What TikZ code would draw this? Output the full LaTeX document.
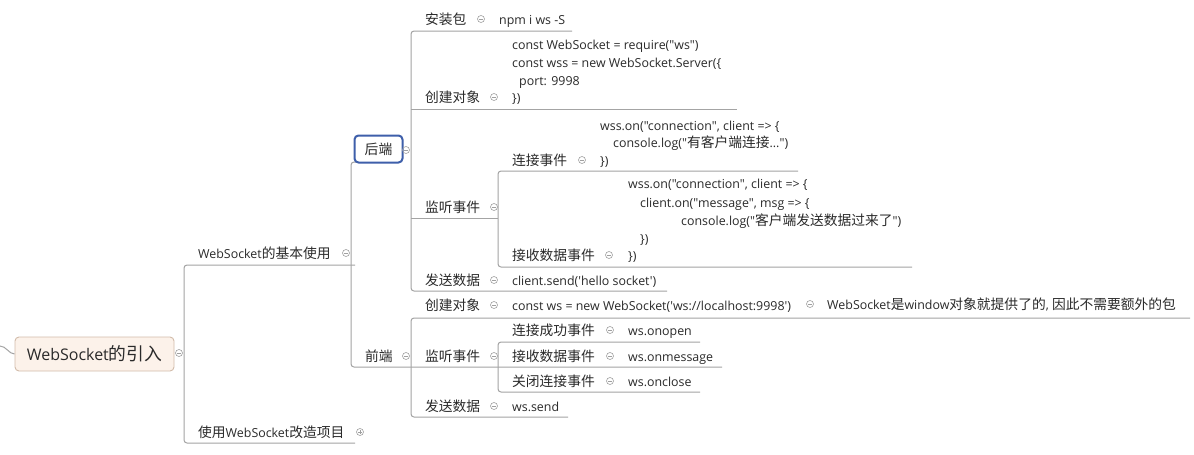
\documentclass[tikz,border=0pt]{standalone}
\usepackage{fontspec}
\newfontfamily\lat{Open Sans}
\newfontfamily\cjk{Noto Sans CJK SC}[Scale=1.11]
\newcommand\zh[1]{{\cjk #1}}
\definecolor{ln}{HTML}{A4A4A4}
\definecolor{tx}{HTML}{2A2A2A}
\definecolor{cc}{HTML}{A0A0A0}
\definecolor{hbblue}{HTML}{3E5FAA}
\definecolor{rootfill}{HTML}{FCF2EA}
\definecolor{rootdraw}{HTML}{D2BCAA}
\begin{document}
\begin{tikzpicture}[x=1pt,y=-1pt,
  txt/.style={anchor=base west, inner sep=0pt, text=tx, font=\fontsize{12.4}{17.5}\selectfont\lat},
  coll/.style={circle, draw=cc, line width=0.6pt, minimum size=7pt, inner sep=0pt,
    path picture={\draw[cc,line width=0.6pt] ([xshift=-1.8pt]path picture bounding box.center) -- ([xshift=1.8pt]path picture bounding box.center);}},
  expd/.style={coll, path picture={\draw[cc,line width=0.6pt] ([xshift=-1.8pt]path picture bounding box.center) -- ([xshift=1.8pt]path picture bounding box.center) ([yshift=-1.8pt]path picture bounding box.center) -- ([yshift=1.8pt]path picture bounding box.center);}},
  tree/.style={draw=ln, line width=1pt, rounded corners=3pt}]
\useasboundingbox[fill=white] (0,0) rectangle (1194,455);

% ---------- tree lines ----------
% root spine
\coordinate (r-top) at (184,265); \coordinate (r-bot) at (184,443);
\coordinate (jb-end) at (355,265); \coordinate (gz-end) at (355,443);
\draw[tree] (jb-end) -- (r-top) -- (r-bot) -- (gz-end);
% basic-use spine
\coordinate (bu-top) at (351,162); \coordinate (bu-bot) at (351,367);
\coordinate (hd-foot) at (358,162); \coordinate (fe-end) at (722,367);
\draw[tree] (hd-foot) -- (bu-top) -- (bu-bot) -- (fe-end);
% backend spine
\coordinate (hb-top) at (411,31); \coordinate (hb-bot) at (411,291);
\coordinate (az-end) at (572,31); \coordinate (fs-end) at (667,291);
\draw[tree] (az-end) -- (hb-top) -- (hb-bot) -- (fs-end);
\coordinate (cj-start) at (411,109); \coordinate (cj-end) at (737,109);
\draw[tree] (cj-start) -- (cj-end);
\coordinate (jt-start) at (411,218); \coordinate (jt-end) at (498,218);
\draw[tree] (jt-start) -- (jt-end);
% backend listen spine
\coordinate (bl-top) at (498,171); \coordinate (bl-bot) at (498,267);
\coordinate (lj-end) at (798,171); \coordinate (js-end) at (912,267);
\draw[tree] (lj-end) -- (bl-top) -- (bl-bot) -- (js-end);
% frontend spine
\coordinate (fe-top) at (411,318); \coordinate (fe-bot) at (411,417);
\coordinate (fc-end) at (1190,318); \coordinate (ff-end) at (568,417);
\draw[tree] (fc-end) -- (fe-top) -- (fe-bot) -- (ff-end);
% frontend listen spine
\coordinate (fl-top) at (498,342); \coordinate (fl-bot) at (498,392);
\coordinate (fo-end) at (700,342); \coordinate (fx-end) at (700,392);
\draw[tree] (fo-end) -- (fl-top) -- (fl-bot) -- (fx-end);

% ---------- root ----------
\node[draw=rootdraw, fill=rootfill, line width=0.9pt, rounded corners=4pt,
      minimum width=159pt, minimum height=34pt, inner sep=0pt, text=tx,
      font=\fontsize{16}{18}\selectfont\lat] (root) at (94.5,354) {WebSocket\zh{的引入}};
\coordinate (in) at (0,346);
\draw[ln, line width=1pt] (in) .. controls (6,346) and (9,354) .. (root.west);
\node[coll] (c-root) at (179,353) {};

% ---------- level 1 ----------
\node[txt] (jb) at (198,258) {WebSocket\zh{的基本使用}};
\node[coll] (c-jb) at (346,253) {};
\node[txt] (gz) at (198,437) {\zh{使用}WebSocket\zh{改造项目}};
\node[expd] (c-gz) at (360,432) {};

% ---------- backend ----------
\node[draw=hbblue, line width=2pt, rounded corners=4pt, fill=white, text=tx,
      minimum width=48pt, minimum height=27pt, inner sep=0pt,
      font=\fontsize{12.4}{14}\selectfont\lat] (hd) at (378.5,149) {\zh{后端}};
\node[coll] (c-hd) at (406,150) {};

\node[txt] (az) at (425,24) {\zh{安装包}};
\node[coll] (c-az) at (481,19) {};
\node[txt] (npm) at (499,24) {npm i ws -S};

\node[txt] (cj) at (425,102) {\zh{创建对象}};
\node[coll] (c-cj) at (494,97) {};
\node[txt] (cj1) at (512,49) {const WebSocket = require("ws")};
\node[txt] (cj2) at (512,67) {const wss = new WebSocket.Server(\{};
\node[txt] (cj3) at (519,85) {port: 9998};
\node[txt] (cj4) at (512,102) {\})};

\node[txt] (jt) at (425,212) {\zh{监听事件}};
\node[coll] (c-jt) at (494,207) {};

\node[txt] (lj) at (512,165) {\zh{连接事件}};
\node[coll] (c-lj) at (582,160) {};
\node[txt] (lj1) at (600,130) {wss.on("connection", client => \{};
\node[txt] (lj2) at (613,147) {console.log("\zh{有客户端连接}...")};
\node[txt] (lj3) at (600,165) {\})};

\node[txt] (js) at (512,260) {\zh{接收数据事件}};
\node[coll] (c-js) at (609,255) {};
\node[txt] (js1) at (628,188) {wss.on("connection", client => \{};
\node[txt] (js2) at (640,207) {client.on("message", msg => \{};
\node[txt] (js3) at (681,225) {console.log("\zh{客户端发送数据过来了}")};
\node[txt] (js4) at (640,243) {\})};
\node[txt] (js5) at (628,260) {\})};

\node[txt] (fs) at (425,285) {\zh{发送数据}};
\node[coll] (c-fs) at (494,280) {};
\node[txt] (fs1) at (512,285) {client.send('hello socket')};

% ---------- frontend ----------
\node[txt] (fe) at (365,361) {\zh{前端}};
\node[coll] (c-fe) at (406,356) {};

\node[txt] (fc) at (425,310) {\zh{创建对象}};
\node[coll] (c-fc) at (494,305) {};
\node[txt] (fc1) at (512,310) {const ws = new WebSocket('ws://localhost:9998')};
\node[coll] (c-fc1) at (810,304) {};
\node[txt] (fc2) at (827,309) {WebSocket\zh{是}window\zh{对象就提供了的}, \zh{因此不需要额外的包}};

\node[txt] (fl) at (425,361) {\zh{监听事件}};
\node[coll] (c-fl) at (494,356) {};
\node[txt] (fo) at (512,335) {\zh{连接成功事件}};
\node[coll] (c-fo) at (610,330) {};
\node[txt] (fo1) at (628,335) {ws.onopen};
\node[txt] (fm) at (512,361) {\zh{接收数据事件}};
\node[coll] (c-fm) at (610,356) {};
\node[txt] (fm1) at (628,361) {ws.onmessage};
\node[txt] (fx) at (512,386) {\zh{关闭连接事件}};
\node[coll] (c-fx) at (610,381) {};
\node[txt] (fx1) at (628,386) {ws.onclose};

\node[txt] (ff) at (425,411) {\zh{发送数据}};
\node[coll] (c-ff) at (494,406) {};
\node[txt] (ff1) at (512,411) {ws.send};
\end{tikzpicture}
\end{document}
